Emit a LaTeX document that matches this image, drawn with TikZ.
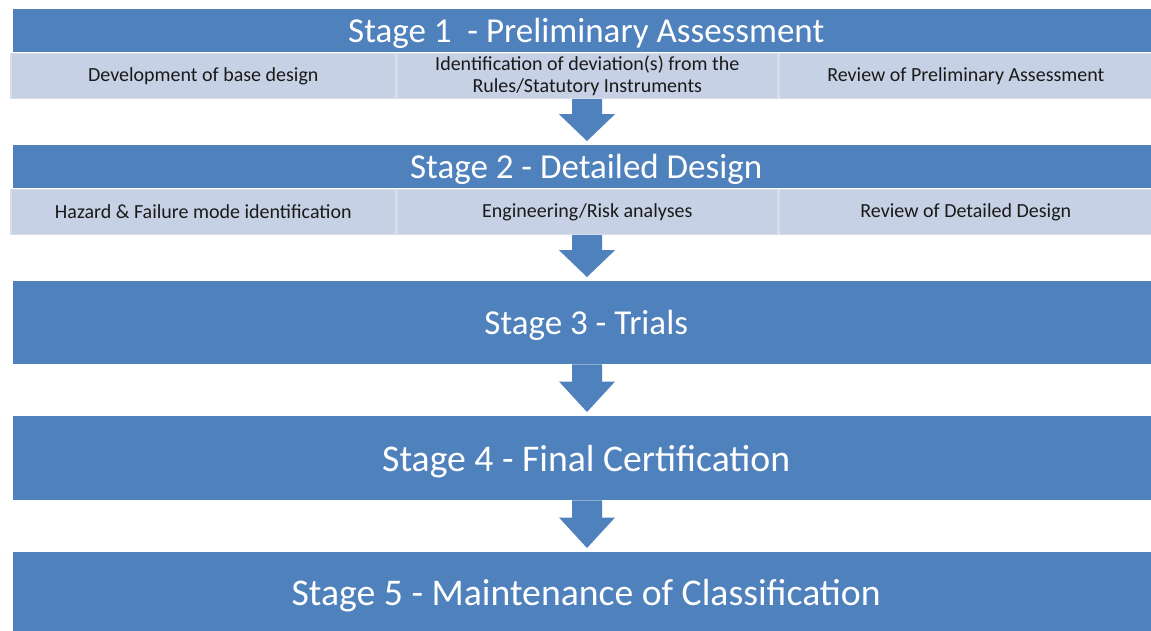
\documentclass[tikz,border=0pt]{standalone}
\usepackage{fontspec}
\setmainfont{Carlito}
\usetikzlibrary{calc}
\definecolor{barblue}{HTML}{4F81BD}
\definecolor{subfill}{HTML}{C6D1E5}
\definecolor{subrim}{HTML}{D6DEEC}
\definecolor{subtext}{HTML}{1A1A1A}
\newcommand{\bartext}[1]{\hspace*{8pt}\raisebox{-3pt}[\height][\depth]{#1}}
\tikzset{
  stagebar/.style={rectangle, fill=barblue, draw=none, anchor=north west, inner sep=0pt,
    text=white, font=\fontsize{35}{40}\selectfont, minimum width=1138pt},
  bigbar/.style={stagebar, font=\fontsize{37.7}{42}\selectfont},
  subbox/.style={rectangle, fill=subfill, draw=subrim, line width=1.6pt, anchor=north west,
    inner sep=0pt, text=subtext, align=center, font=\fontsize{20}{22}\selectfont,
    minimum height=45pt},
  flowfill/.style={fill=barblue, draw=none}
}
\newcommand{\flowarrow}[2]{%
  \fill[flowfill] let \p1=(#1.south -| ax), \p2=(#2.north -| ax),
      \n1={\y1+0.36*(\y2+4pt-\y1)} in
    (\x1-15pt,\y1) -- (\x1+15pt,\y1) -- (\x1+15pt,\n1) -- (\x1+28pt,\n1)
    -- (\x1,\y2+4pt) -- (\x1-28pt,\n1) -- (\x1-15pt,\n1) -- cycle;}
\begin{document}
\begin{tikzpicture}[x=1pt,y=-1pt]
\useasboundingbox (0,0) rectangle (1151,630);
\coordinate (ax) at (587,0);
% Stage 1
\node[stagebar, minimum height=43pt] (s1) at (13,9) {\bartext{Stage 1~ - Preliminary Assessment}};
\node[subbox, minimum width=385pt] (s1a) at (10,52.5) {Development of base design};
\node[subbox, minimum width=381pt] (s1b) at (396,52.5) {Identification of deviation(s) from the\\Rules/Statutory Instruments};
\node[subbox, minimum width=374pt] (s1c) at (778,52.5) {Review of Preliminary Assessment};
% Stage 2
\node[stagebar, minimum height=43pt] (s2) at (13,145) {\bartext{Stage 2 - Detailed Design}};
\node[subbox, minimum width=385pt] (s2a) at (10,188.5) {Hazard \& Failure mode identification};
\node[subbox, minimum width=381pt] (s2b) at (396,188.5) {Engineering/Risk analyses};
\node[subbox, minimum width=374pt] (s2c) at (778,188.5) {Review of Detailed Design};
% Stage 3-5
\node[stagebar, minimum height=83pt] (s3) at (13,281) {\bartext{Stage 3 - Trials}};
\node[bigbar, minimum height=84pt] (s4) at (13,416) {\bartext{Stage 4 - Final Certification}};
\node[bigbar, minimum height=80pt] (s5) at (13,552) {\bartext{Stage 5 - Maintenance of Classification}};
% arrows
\flowarrow{s1b}{s2}
\flowarrow{s2b}{s3}
\flowarrow{s3}{s4}
\flowarrow{s4}{s5}
\end{tikzpicture}
\end{document}
